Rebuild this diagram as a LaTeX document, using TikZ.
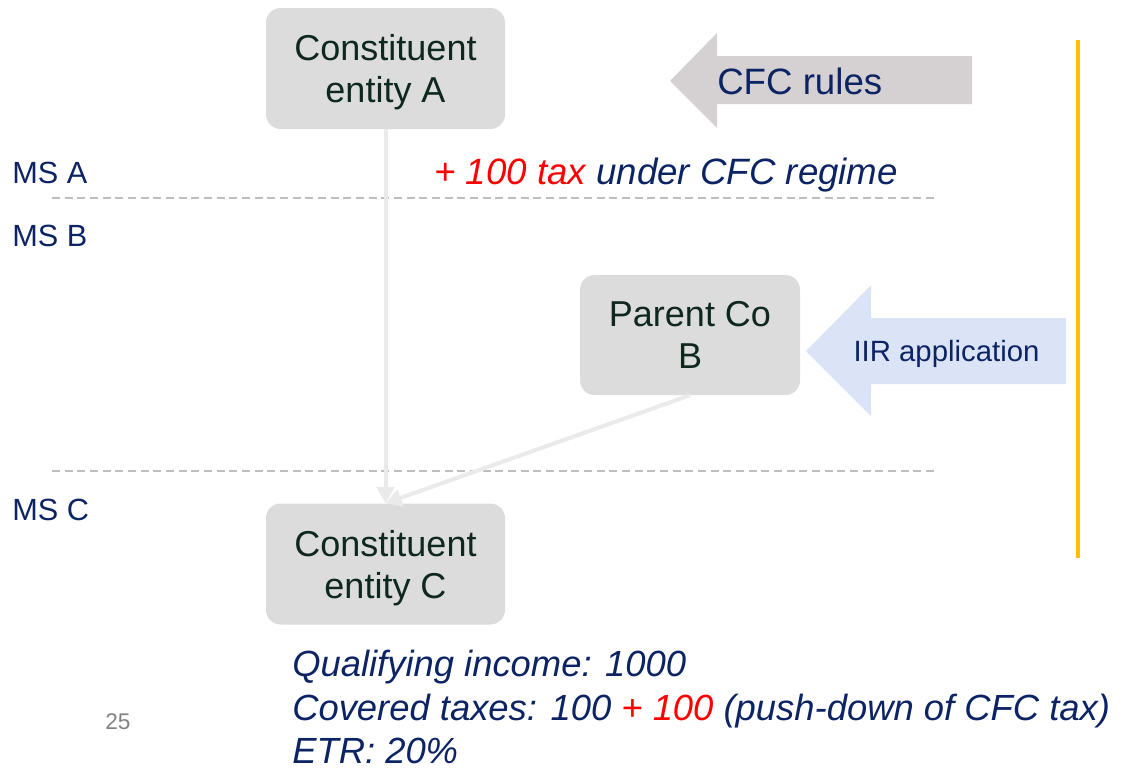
\documentclass[tikz,border=0pt]{standalone}
\usepackage{fontspec}
\setmainfont{Liberation Sans}
\usetikzlibrary{arrows.meta}
\definecolor{boxgray}{RGB}{220,220,220}
\definecolor{boxtext}{RGB}{15,40,30}
\definecolor{navy}{RGB}{12,35,100}
\definecolor{cfcgray}{RGB}{213,208,210}
\definecolor{iirblue}{RGB}{219,228,247}
\definecolor{conncol}{RGB}{234,234,234}
\definecolor{dashcol}{RGB}{190,190,190}
\definecolor{yellowline}{RGB}{255,192,0}
\definecolor{pagenum}{RGB}{130,130,130}
\tikzset{
  entity/.style={rounded corners=11pt, fill=boxgray, draw=none, align=center,
    text=boxtext, font=\fontsize{27}{31.5}\selectfont, inner sep=0pt, text depth=0pt},
  conn/.style={draw=conncol, line width=3pt, -{Triangle[length=12pt,width=13pt]}},
  divider/.style={draw=dashcol, line width=1.1pt, dash pattern=on 6pt off 3.5pt},
  mslabel/.style={text=navy, font=\fontsize{23}{28}\selectfont, inner sep=0pt, anchor=west},
  bottomtext/.style={text=navy, font=\fontsize{27.3}{33}\selectfont\itshape, inner sep=0pt, anchor=base west},
}
\begin{document}
\begin{tikzpicture}[x=0.75pt,y=-0.75pt]
\useasboundingbox (0,0) rectangle (1124,769);

% yellow vertical line
\coordinate (ytop) at (1078,40);
\coordinate (ybot) at (1078,558);
\draw[yellowline, line width=2.3pt] (ytop) -- (ybot);

% dashed separators
\coordinate (d1l) at (52,198);
\coordinate (d1r) at (935,198);
\coordinate (d2l) at (52,471);
\coordinate (d2r) at (935,471);
\draw[divider] (d1l) -- (d1r);
\draw[divider] (d2l) -- (d2r);

% entities
\node[entity, minimum width=179.25pt, minimum height=90.75pt] (A) at (385.5,68.5) {Constituent\\entity A};
\node[entity, minimum width=165pt, minimum height=90pt] (B) at (690,335) {Parent Co\\B};
\node[entity, minimum width=179.25pt, minimum height=90.75pt] (C) at (385.5,564) {Constituent\\entity C};

% connectors
\draw[conn] (A.south) -- (C.north);
\draw[conn] (B.south) -- (C.north);

% CFC rules arrow
\fill[cfcgray] (670,81) -- (717,33) -- (717,56) -- (972,56) -- (972,104) -- (717,104) -- (717,128) -- cycle;
\node[text=navy, font=\fontsize{27.5}{33}\selectfont, inner sep=0pt, anchor=west] (cfc) at (717,81) {CFC rules};

% IIR application arrow
\fill[iirblue] (806,351) -- (871,285) -- (871,318) -- (1066,318) -- (1066,384) -- (871,384) -- (871,416) -- cycle;
\node[text=navy, font=\fontsize{22}{27}\selectfont, inner sep=0pt, anchor=base] (iir) at (946.5,361) {IIR application};

% MS labels
\node[mslabel] (msa) at (12,173) {MS A};
\node[mslabel] (msb) at (12,236) {MS B};
\node[mslabel] (msc) at (12,510) {MS C};

% CFC tax note
\node[font=\fontsize{27.5}{33}\selectfont\itshape, text=navy, inner sep=0pt, anchor=base west] (tax) at (434,184)
  {\textcolor{red}{+ 100 tax} under CFC regime};

% bottom text
\node[bottomtext] (q1) at (292,676) {Qualifying income: 1000};
\node[bottomtext] (q2) at (292,720) {Covered taxes: 100 \textcolor{red}{+ 100} (push-down of CFC tax)};
\node[bottomtext] (q3) at (292,763) {ETR: 20\%};

% page number
\node[text=pagenum, font=\fontsize{17}{20}\selectfont, inner sep=0pt] (pg) at (118,722) {25};
\end{tikzpicture}
\end{document}
